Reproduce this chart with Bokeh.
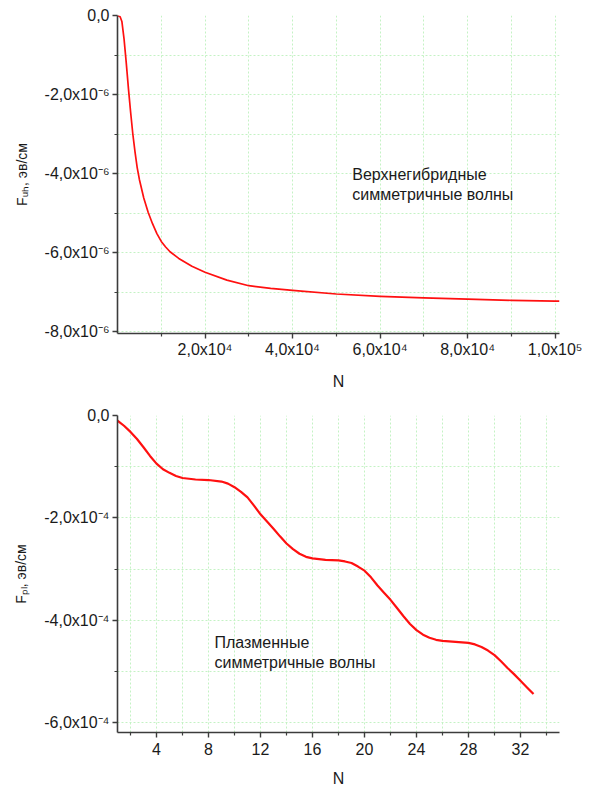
from bokeh.plotting import figure
from bokeh.models import FixedTicker, CustomJSTickFormatter, Range1d, Label
from bokeh.layouts import column
from bokeh.embed import file_html
from bokeh.resources import INLINE

# ---- data: upper-hybrid symmetric waves (F in units of 1e-6 eV/cm) ----
uh_n = [0, 600, 1000, 1500, 2000, 2500, 3000, 3500, 4000, 4500, 5000, 6000, 7000,
        8000, 9000, 10000, 11000, 12000, 14000, 17000, 20000, 25000, 30000, 35000,
        40000, 50000, 60000, 70000, 80000, 90000, 100000, 101000]
uh_f = [0.0, -0.03, -0.15, -0.6, -1.2, -1.85, -2.45, -3.0, -3.45, -3.85, -4.15,
        -4.62, -4.98, -5.27, -5.52, -5.72, -5.86, -5.98, -6.15, -6.35, -6.50,
        -6.70, -6.84, -6.91, -6.96, -7.05, -7.11, -7.15, -7.18, -7.21, -7.23, -7.23]

# ---- data: plasma symmetric waves (F in units of 1e-4 eV/cm) ----
pl_n = [1.0, 1.5, 2, 2.5, 3, 3.5, 4, 4.5, 5, 5.5, 6, 7, 8, 9, 9.5, 10, 10.5, 11,
        11.5, 12, 12.5, 13, 13.5, 14, 14.5, 15, 15.5, 16, 17, 18, 18.5, 19, 19.5,
        20, 20.5, 21, 21.5, 22, 22.5, 23, 23.5, 24, 24.5, 25, 25.5, 26, 27, 28,
        28.5, 29, 29.5, 30, 30.5, 31, 31.5, 32, 32.5, 33]
pl_f = [-0.10, -0.20, -0.32, -0.46, -0.62, -0.79, -0.94, -1.05, -1.12, -1.18,
        -1.22, -1.25, -1.26, -1.29, -1.33, -1.40, -1.49, -1.60, -1.76, -1.93,
        -2.07, -2.21, -2.36, -2.50, -2.61, -2.70, -2.76, -2.79, -2.82, -2.83,
        -2.85, -2.88, -2.95, -3.03, -3.16, -3.32, -3.46, -3.60, -3.76, -3.92,
        -4.07, -4.19, -4.28, -4.34, -4.38, -4.40, -4.42, -4.44, -4.47, -4.52,
        -4.59, -4.68, -4.80, -4.93, -5.05, -5.18, -5.31, -5.44]

# ---- ticks and labels ----
top_x_ticks = [20000, 40000, 60000, 80000, 100000]
top_x_minor = [10000, 30000, 50000, 70000, 90000]
top_x_labels = ["2,0x10⁴", "4,0x10⁴", "6,0x10⁴", "8,0x10⁴", "1,0x10⁵"]
top_y_ticks = [0.0, -2e-6, -4e-6, -6e-6, -8e-6]
top_y_minor = [-1e-6, -3e-6, -5e-6, -7e-6]
top_y_labels = ["0,0", "-2,0x10⁻⁶", "-4,0x10⁻⁶", "-6,0x10⁻⁶", "-8,0x10⁻⁶"]

bot_x_ticks = [4, 8, 12, 16, 20, 24, 28, 32]
bot_x_minor = [2, 6, 10, 14, 18, 22, 26, 30, 34]
bot_x_labels = ["4", "8", "12", "16", "20", "24", "28", "32"]
bot_y_ticks = [0.0, -2e-4, -4e-4, -6e-4]
bot_y_minor = [-1e-4, -3e-4, -5e-4]
bot_y_labels = ["0,0", "-2,0x10⁻⁴", "-4,0x10⁻⁴", "-6,0x10⁻⁴"]

FONT = "Liberation Sans"
AXIS_COLOR = "#3c3c3c"
GRID_COLOR = "#c4f2c4"

FMT_CODE = """
for (let i = 0; i < t.length; i++) {
  if (Math.abs(tick - t[i]) < Math.abs(t[1] - t[0]) * 1e-3) { return l[i]; }
}
return '';
"""


def style(p, xt, xm, xl, yt, ym, yl, ylabel):
    xtick = FixedTicker(ticks=xt, minor_ticks=xm)
    ytick = FixedTicker(ticks=yt, minor_ticks=ym)
    p.xaxis.ticker = xtick
    p.yaxis.ticker = ytick
    p.xgrid.ticker = xtick
    p.ygrid.ticker = ytick
    p.xaxis.formatter = CustomJSTickFormatter(args=dict(t=xt, l=xl), code=FMT_CODE)
    p.yaxis.formatter = CustomJSTickFormatter(args=dict(t=yt, l=yl), code=FMT_CODE)
    for ax in (p.xaxis, p.yaxis):
        ax.axis_line_color = AXIS_COLOR
        ax.axis_line_width = 1.6
        ax.major_tick_line_color = AXIS_COLOR
        ax.minor_tick_line_color = AXIS_COLOR
        ax.major_tick_line_width = 1.4
        ax.minor_tick_line_width = 1.2
        ax.major_tick_in = 0
        ax.major_tick_out = 5
        ax.minor_tick_in = 0
        ax.minor_tick_out = 3
        ax.major_label_text_font = FONT
        ax.major_label_text_font_size = "16px"
        ax.major_label_text_color = "#1a1a1a"
        ax.axis_label_text_font = FONT
        ax.axis_label_text_font_style = "normal"
        ax.axis_label_text_color = "#1a1a1a"
    p.xaxis.axis_label = "N"
    p.xaxis.axis_label_text_font_size = "16px"
    p.yaxis.axis_label = ylabel
    p.yaxis.axis_label_text_font_size = "14px"
    p.yaxis.major_label_standoff = 3
    p.yaxis.axis_label_standoff = 12
    for g in (p.xgrid, p.ygrid):
        g.grid_line_color = GRID_COLOR
        g.grid_line_dash = "2 2"
        g.grid_line_width = 1
        g.minor_grid_line_color = GRID_COLOR
        g.minor_grid_line_dash = "2 2"
        g.minor_grid_line_width = 1
    p.outline_line_color = None
    p.background_fill_color = "white"
    p.border_fill_color = "white"


# ---- top figure ----
p1 = figure(width=584, height=392, output_backend="svg", toolbar_location=None,
            x_range=Range1d(0, 101000), y_range=Range1d(-8.05e-6, 0),
            min_border_left=117, min_border_right=25, min_border_top=15,
            min_border_bottom=57)
style(p1, top_x_ticks, top_x_minor, top_x_labels, top_y_ticks, top_y_minor,
      top_y_labels, "Fᵤₕ, эв/см")
p1.xaxis.major_label_standoff = 2
p1.xaxis.axis_label_standoff = 12
p1.line(uh_n, [f * 1e-6 for f in uh_f], line_color="#ff1010", line_width=1.7,
        line_join="round")
p1.add_layout(Label(x=53650, y=-4.03e-6, text="Верхнегибридные", text_font=FONT,
                    text_font_size="16px", text_color="#1a1a1a", text_baseline="middle"))
p1.add_layout(Label(x=53650, y=-4.53e-6, text="симметричные волны", text_font=FONT,
                    text_font_size="16px", text_color="#1a1a1a", text_baseline="middle"))

# ---- bottom figure ----
p2 = figure(width=584, height=397, output_backend="svg", toolbar_location=None,
            x_range=Range1d(1, 35), y_range=Range1d(-6.19e-4, 0),
            min_border_left=117, min_border_right=25, min_border_top=23,
            min_border_bottom=55)
style(p2, bot_x_ticks, bot_x_minor, bot_x_labels, bot_y_ticks, bot_y_minor,
      bot_y_labels, "Fₚₗ, эв/см")
p2.xaxis.major_label_standoff = 5
p2.xaxis.axis_label_standoff = 12
p2.line(pl_n, [f * 1e-4 for f in pl_f], line_color="#ff1010", line_width=2.2,
        line_join="round")
p2.add_layout(Label(x=8.46, y=-4.43e-4, text="Плазменные", text_font=FONT,
                    text_font_size="16px", text_color="#1a1a1a", text_baseline="middle"))
p2.add_layout(Label(x=8.46, y=-4.82e-4, text="симметричные волны", text_font=FONT,
                    text_font_size="16px", text_color="#1a1a1a", text_baseline="middle"))

layout = column(p1, p2, spacing=0)
open("out.html", "w").write(file_html(layout, INLINE))
